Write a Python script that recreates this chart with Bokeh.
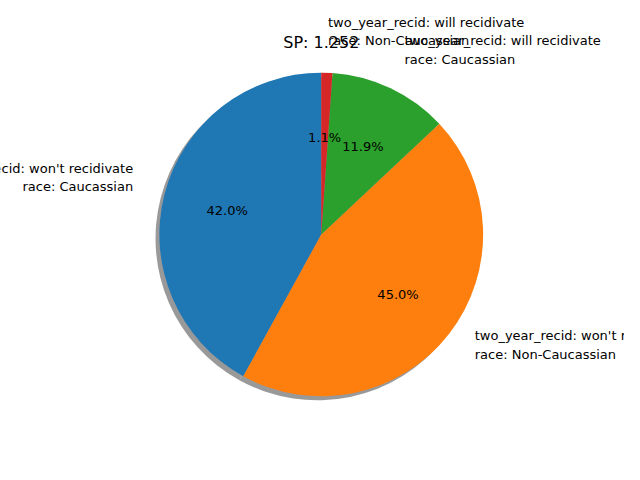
import numpy as np
from bokeh.plotting import figure
from bokeh.models import ColumnDataSource, Range1d
from bokeh.core.properties import value
from bokeh.embed import file_html
from bokeh.resources import INLINE

labels = ["two_year_recid: won't recidivate\nrace: Caucassian",
          "two_year_recid: won't recidivate\nrace: Non-Caucassian",
          "two_year_recid: will recidivate\nrace: Caucassian",
          "two_year_recid: will recidivate\nrace: Non-Caucassian"]
values = [42.0, 45.0, 11.9, 1.1]
colors = ["#1f77b4", "#ff7f0e", "#2ca02c", "#d62728"]
title = "SP: 1.252"

cx, cy, R = 329, 240, 166
frac = np.array(values) / sum(values)
cum = np.concatenate([[0], np.cumsum(frac)])
start = np.pi / 2 + 2 * np.pi * cum[:-1]
end = np.pi / 2 + 2 * np.pi * cum[1:]
mid = (start + end) / 2

p = figure(width=624, height=468, output_backend="svg", toolbar_location=None,
           x_range=Range1d(0, 640), y_range=Range1d(0, 480), min_border=0)
p.axis.visible = False
p.grid.visible = False
p.outline_line_color = None

p.wedge(x=cx - 4, y=cy - 4, radius=R, start_angle=start, end_angle=end,
        fill_color="#808080", fill_alpha=0.8, line_color=None)
src = ColumnDataSource(dict(s=start, e=end, c=colors))
p.wedge(x=cx, y=cy, radius=R, start_angle="s", end_angle="e", fill_color="c",
        line_color=None, source=src)

px = cx + 0.6 * R * np.cos(mid)
py = cy + 0.6 * R * np.sin(mid)
p.text(px, py, text=[f"{v:.1f}%" for v in values], text_align="center",
       text_baseline="middle", text_font=value("DejaVu Sans"), text_font_size="13px")

lx = cx + 1.2 * R * np.cos(mid)
ly = cy + 1.2 * R * np.sin(mid) + 9
for x, y, t in zip(lx, ly, labels):
    p.text([x], [y], text=[t], text_align="left" if x > cx else "right",
           text_baseline="middle", text_font=value("DejaVu Sans"),
           text_font_size="13px", text_line_height=1.25)

p.text([cx], [437], text=[title], text_align="center", text_baseline="middle",
       text_font=value("DejaVu Sans"), text_font_size="16px")

open("out.html", "w").write(file_html(p, INLINE))
